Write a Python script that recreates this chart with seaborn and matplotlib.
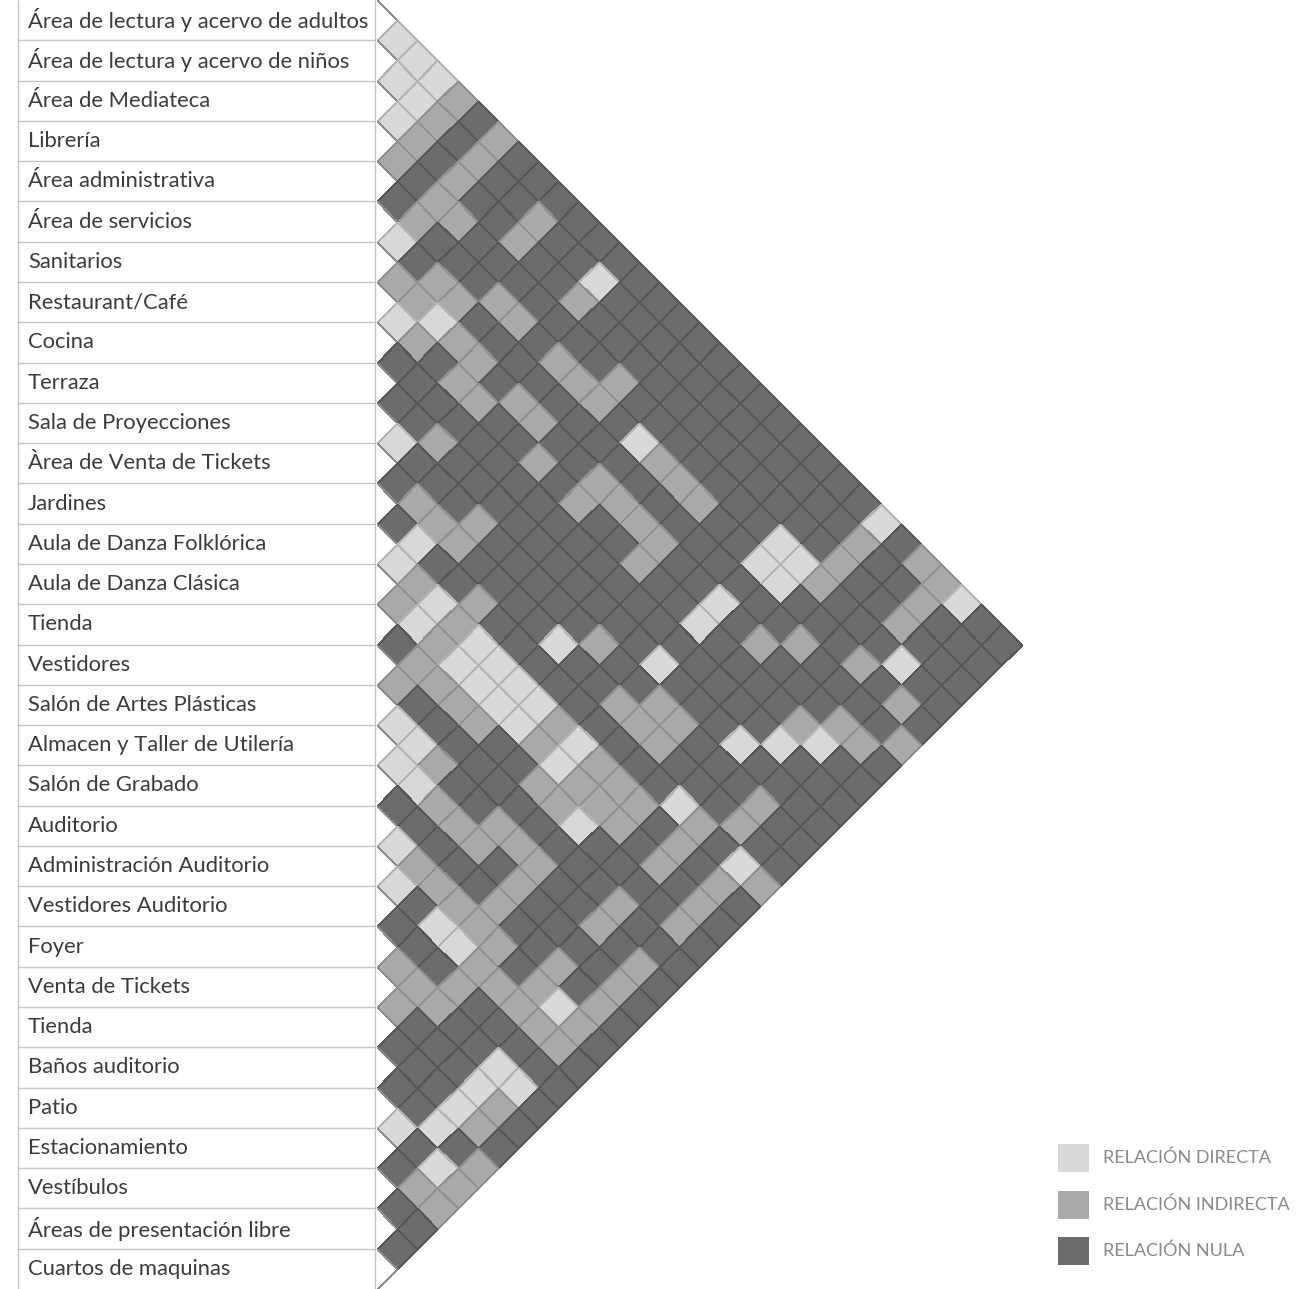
import numpy as np
import matplotlib
matplotlib.use('Agg')
import matplotlib.pyplot as plt
from matplotlib.colors import ListedColormap, to_rgba
from matplotlib.transforms import Affine2D
from matplotlib.patches import Rectangle
import seaborn as sns

# ============ DATOS ============
espacios = [
    'Área de lectura y acervo de adultos', 'Área de lectura y acervo de niños',
    'Área de Mediateca', 'Librería', 'Área administrativa', 'Área de servicios',
    'Sanitarios', 'Restaurant/Café', 'Cocina', 'Terraza', 'Sala de Proyecciones',
    'Àrea de Venta de Tickets', 'Jardines', 'Aula de Danza Folklórica',
    'Aula de Danza Clásica', 'Tienda', 'Vestidores', 'Salón de Artes Plásticas',
    'Almacen y Taller de Utilería', 'Salón de Grabado', 'Auditorio',
    'Administración Auditorio', 'Vestidores Auditorio', 'Foyer', 'Venta de Tickets',
    'Tienda', 'Baños auditorio', 'Patio', 'Estacionamiento', 'Vestíbulos',
    'Áreas de presentación libre', 'Cuartos de maquinas',
]

# pares (fila, columna) con relación directa / indirecta; el resto es nula
directa = [
    (0, 1), (0, 2), (0, 3), (0, 25), (0, 29),
    (1, 2), (1, 3), (1, 12),
    (2, 3),
    (3, 23), (3, 24), (3, 29),
    (4, 17), (4, 23), (4, 24),
    (5, 6),
    (6, 9), (6, 23),
    (7, 8), (7, 23), (7, 29),
    (8, 28),
    (9, 23), (9, 27),
    (10, 11),
    (11, 20),
    (12, 14), (12, 27), (12, 30),
    (13, 14), (13, 16), (13, 18), (13, 19), (13, 20), (13, 21), (13, 23),
    (14, 16), (14, 18), (14, 19), (14, 20), (14, 21), (14, 23),
    (15, 25),
    (17, 18), (17, 19),
    (18, 19), (18, 20),
    (20, 21), (20, 29),
    (21, 22), (21, 24), (21, 25),
    (23, 29), (23, 30),
    (24, 29), (25, 29), (26, 29),
    (27, 28), (27, 30),
]

indirecta = [
    (0, 4), (0, 6), (0, 27), (0, 28),
    (1, 4), (1, 6), (1, 9), (1, 25), (1, 28),
    (2, 4), (2, 6), (2, 9), (2, 12), (2, 25), (2, 28),
    (3, 4), (3, 6), (3, 7), (3, 15), (3, 25),
    (4, 6), (4, 10), (4, 11), (4, 13), (4, 14), (4, 15), (4, 18), (4, 19), (4, 20), (4, 28), (4, 30),
    (5, 8), (5, 9), (5, 26), (5, 31),
    (6, 7), (6, 8), (6, 10), (6, 11), (6, 13), (6, 14), (6, 17), (6, 18), (6, 19), (6, 20),
    (6, 25), (6, 29), (6, 30),
    (7, 9), (7, 11), (7, 12), (7, 15), (7, 17), (7, 20), (7, 28),
    (9, 12),
    (10, 15), (10, 21), (10, 24), (10, 25), (10, 29),
    (11, 13), (11, 14), (11, 15), (11, 23), (11, 24), (11, 25), (11, 29),
    (12, 17), (12, 28), (12, 31),
    (13, 15), (13, 17), (13, 22), (13, 24), (13, 25), (13, 26), (13, 28), (13, 30),
    (14, 15), (14, 17), (14, 22), (14, 24), (14, 25), (14, 26), (14, 28), (14, 30),
    (15, 17), (15, 18), (15, 19), (15, 20), (15, 23), (15, 24), (15, 30),
    (16, 17), (16, 28),
    (17, 20), (17, 23), (17, 24), (17, 25), (17, 28), (17, 30),
    (18, 21), (18, 22), (18, 23), (18, 25), (18, 30),
    (19, 25), (19, 28), (19, 30),
    (20, 22), (20, 23), (20, 24), (20, 25), (20, 26), (20, 28), (20, 30),
    (21, 26), (21, 27), (21, 28), (21, 29), (21, 30),
    (22, 26),
    (23, 24), (23, 25), (23, 26),
    (24, 25), (24, 30),
    (25, 30),
    (26, 31), (27, 31),
    (28, 30), (28, 31),
]

relaciones = ['RELACIÓN DIRECTA', 'RELACIÓN INDIRECTA', 'RELACIÓN NULA']
colores = ['#d8d8d8', '#a9a9a9', '#6c6c6c']

# ============ MATRIZ ============
n = len(espacios)
mat = np.zeros((n, n))          # 0 = nula
for i, j in indirecta:
    mat[j, i] = 1
for i, j in directa:
    mat[j, i] = 2
np.fill_diagonal(mat, 3)        # diagonal en blanco
mask = np.triu(np.ones((n, n), dtype=bool), k=1)

cmap = ListedColormap([colores[2], colores[1], colores[0], 'white'])

W, H = 1297, 1289
h = H / n
x0 = 377

plt.rcParams['font.family'] = ['Lato', 'DejaVu Sans']
fig = plt.figure(figsize=(W / 100, H / 100), dpi=100)

# tabla de nombres
ax_t = fig.add_axes([0, 0, x0 / W, 1])
ax_t.set_xlim(0, x0)
ax_t.set_ylim(n, 0)
ax_t.axis('off')
ax_t.hlines(np.arange(1, n), 18, 375, color='#c4c4c4', lw=1)
ax_t.vlines([18, 375], 0, n, color='#c4c4c4', lw=1)
for i, nombre in enumerate(espacios):
    ax_t.text(28, i + 0.5, nombre, va='center', ha='left', fontsize=15.8, color='#3c3c3c')

# matriz girada 45 grados
umax = 16.6
ax = fig.add_axes([x0 / W, 0, umax * h / W, 1])
sns.heatmap(mat, mask=mask, cmap=cmap, vmin=-0.5, vmax=3.5, cbar=False,
            linewidths=0.7, linecolor='#5e5e5e', ax=ax)
malla = ax.collections[0]
giro = Affine2D(np.array([[-0.5, 0.5, 0], [0.5, 0.5, 0], [0, 0, 1]]))
malla.set_transform(giro + ax.transData)

# bordes de cada celda según su tono
bordes = {0: '#585858', 1: '#919191', 2: '#b4b4b4', 3: '#8c8c8c'}
ec = np.array([to_rgba(bordes[int(v)]) for v in mat.ravel()])
ec[mask.ravel()] = (0, 0, 0, 0)
malla.set_edgecolor(ec)

ax.set_xlim(0, umax)
ax.set_ylim(n, 0)
ax.axis('off')

# leyenda
for k, (txt, col) in enumerate(zip(relaciones, colores)):
    yc = H - (1158 + 46.5 * k)
    fig.patches.append(Rectangle((1058 / W, (yc - 14) / H), 31 / W, 28 / H,
                                 transform=fig.transFigure, facecolor=col, edgecolor='none'))
    fig.text(1103 / W, yc / H, txt, va='center', ha='left', fontsize=13, color='#8a8a8a')

fig.savefig('out.png', dpi=100)
plt.close(fig)
